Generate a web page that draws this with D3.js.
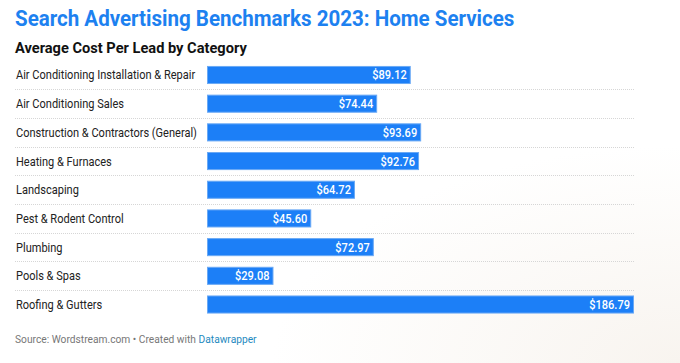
<!DOCTYPE html>
<html><head><meta charset="utf-8">
<script src="https://cdn.jsdelivr.net/npm/d3@7"></script>
<style>
html,body{margin:0;padding:0;background:#fff;}
svg{display:block;font-family:Roboto,"Noto Sans",sans-serif;}
</style></head>
<body><svg id="c" width="680" height="363"></svg>
<script>
const categories = ["Air Conditioning Installation & Repair","Air Conditioning Sales","Construction & Contractors (General)","Heating & Furnaces","Landscaping","Pest & Rodent Control","Plumbing","Pools & Spas","Roofing & Gutters"];
const values = [89.12,74.44,93.69,92.76,64.72,45.60,72.97,29.08,186.79];
const titleText = "Search Advertising Benchmarks 2023: Home Services";
const subtitleText = "Average Cost Per Lead by Category";

const svg = d3.select("#c");
const defs = svg.append("defs");
const rg = defs.append("radialGradient").attr("id","bg").attr("cx","1").attr("cy","1").attr("r","0.6");
rg.append("stop").attr("offset","0").attr("stop-color","#f8f4ef");
rg.append("stop").attr("offset","1").attr("stop-color","#ffffff");
svg.append("rect").attr("width",680).attr("height",363).attr("fill","url(#bg)");

svg.append("text").attr("transform","translate(15,26) scale(0.956,1)").attr("fill","#1d81f0")
  .attr("font-size",21.5).attr("font-weight",700).text(titleText);
svg.append("text").attr("transform","translate(15,52.5) scale(1.045,1)").attr("fill","#111")
  .attr("font-size",14).attr("font-weight",700).text(subtitleText);

const x = d3.scaleLinear().domain([0, d3.max(values)]).range([207, 634]);
const y = d3.scaleBand().domain(categories).range([60.5, 319]).paddingInner(0.37).paddingOuter(0.19);
const step = y.step();

const g = svg.append("g");
g.selectAll("line.sep").data(categories.slice(0,-1)).join("line")
  .attr("x1",15).attr("x2",634)
  .attr("y1",d=>Math.round(y(d)+y.bandwidth()+ (step-y.bandwidth())/2)+0.5)
  .attr("y2",d=>Math.round(y(d)+y.bandwidth()+ (step-y.bandwidth())/2)+0.5)
  .attr("stroke","#d6d6d6").attr("stroke-dasharray","1,1");

g.selectAll("text.lab").data(categories).join("text")
  .attr("transform",d=>`translate(16,${y(d)+y.bandwidth()/2+4.5}) scale(0.92,1)`)
  .attr("font-size",12).attr("fill","#222").text(d=>d);

const rows = categories.map((c,i)=>({c,v:values[i]}));
g.selectAll("rect.bar").data(rows).join("rect")
  .attr("x",x(0)+0.5).attr("y",d=>y(d.c)+0.5)
  .attr("width",d=>x(d.v)-x(0)-1).attr("height",y.bandwidth()-1)
  .attr("fill","#1c7ff7").attr("stroke","#6aa9f5").attr("stroke-width",1);

g.selectAll("text.val").data(rows).join("text")
  .attr("transform",d=>`translate(${x(d.v)-4},${y(d.c)+y.bandwidth()/2+4.5}) scale(0.9,1)`)
  .attr("text-anchor","end").attr("font-size",12.3).attr("font-weight",500)
  .attr("fill","#fff").text(d=>"$"+d.v.toFixed(2));

const src = svg.append("text").attr("transform","translate(15,343) scale(0.93,1)").attr("font-size",11).attr("fill","#777");
src.append("tspan").text("Source: Wordstream.com • Created with ");
src.append("tspan").attr("fill","#1f8ac0").text("Datawrapper");
</script></body></html>
